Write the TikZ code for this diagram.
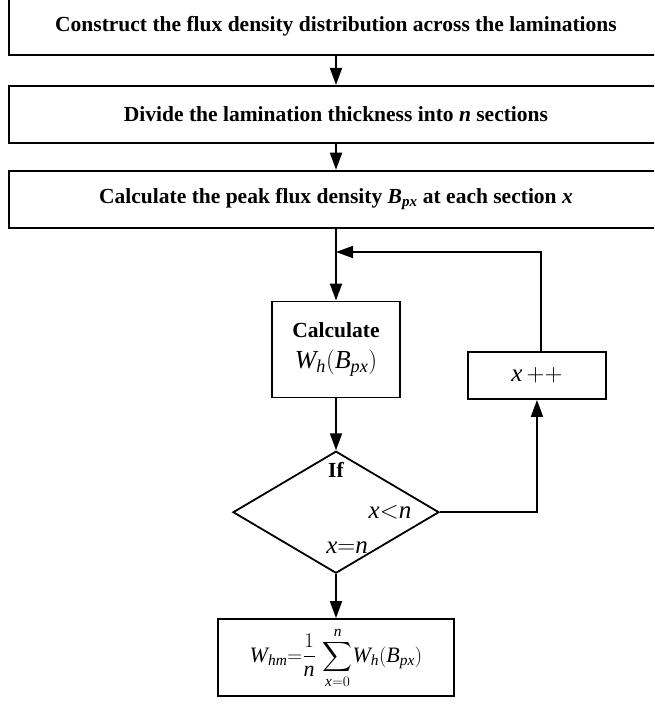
\documentclass[tikz,border=0pt]{standalone}
\usepackage{amsmath}
\usepackage{fontspec}
\setmainfont{Liberation Serif}
\usetikzlibrary{positioning,shapes.geometric,arrows.meta,calc}
\newcommand{\mv}[1]{\text{\normalfont\itshape #1}}
\tikzset{
  wbox/.style={draw,line width=1.8pt,minimum width=654pt,minimum height=57pt,
               inner sep=0pt,font=\fontsize{21.5}{25}\selectfont\bfseries},
  cbox/.style={draw,line width=1.8pt,inner sep=0pt,text centered},
  ifbox/.style={draw,diamond,line width=1.8pt,minimum width=206pt,
                minimum height=122pt,inner sep=0pt},
  btext/.style={font=\fontsize{21.5}{25}\selectfont\bfseries},
  mtext/.style={font=\fontsize{25}{28}\selectfont},
  arr/.style={-{Triangle[length=17pt,width=12pt]},line width=1.8pt},
}
\begin{document}
\begin{tikzpicture}[x=1pt,y=1pt]
  \clip (0,0) rectangle (654,-715);
  \node[wbox] (b1) at (336,-26.5) {Construct the flux density distribution across the laminations};
  \node[wbox,below=29pt of b1] (b2) {Divide the lamination thickness into \textit{n} sections};
  \node[wbox,below=26pt of b2] (b3) {Calculate the peak flux density \textit{B}\textsubscript{\textit{px}} at each section \textit{x}};
  \node[cbox,btext,align=center,minimum width=128pt,minimum height=96pt,below=72pt of b3] (calc)
    {Calculate\\[6pt]{\fontsize{26}{28}\selectfont$\mv{W}_{\mv{h}}(\mv{B}_{\mv{px}})$}};
  \node[ifbox,below=52pt of calc] (dec) {};
  \node[cbox,minimum width=236pt,minimum height=77pt,below=44pt of dec,
        font=\fontsize{22}{25}\selectfont] (res)
    {$\displaystyle \mv{W}_{\mv{hm}}{=}\frac{1}{\mv{n}}\,\sum_{\mv{x}=0}^{\mv{n}}\!\mv{W}_{\mv{h}}(\mv{B}_{\mv{px}})$};
  \node[cbox,mtext,minimum width=138pt,minimum height=47pt] (inc) at (537,-375.5) {$\mv{x}\,{+}{+}$};
  \coordinate (join) at (336,-252);
  % labels in the decision
  \node[btext] (iflab) at ($(dec.north)+(0,-20)$) {If};
  \node[mtext] (lt) at ($(dec.center)+(54,0)$) {$\mv{x}{<}\mv{n}$};
  \node[mtext] (eq) at ($(dec.center)+(11,-35)$) {$\mv{x}{=}\mv{n}$};
  \draw[arr] (b1) -- (b2);
  \draw[arr] (b2) -- (b3);
  \draw[arr] (b3) -- (calc);
  \draw[arr] (calc) -- (dec);
  \draw[arr] (dec) -- (res);
  \draw[arr] (dec.east) -| (inc.south);
  \draw[arr] ([xshift=4pt]inc.north) |- (join);
\end{tikzpicture}
\end{document}
